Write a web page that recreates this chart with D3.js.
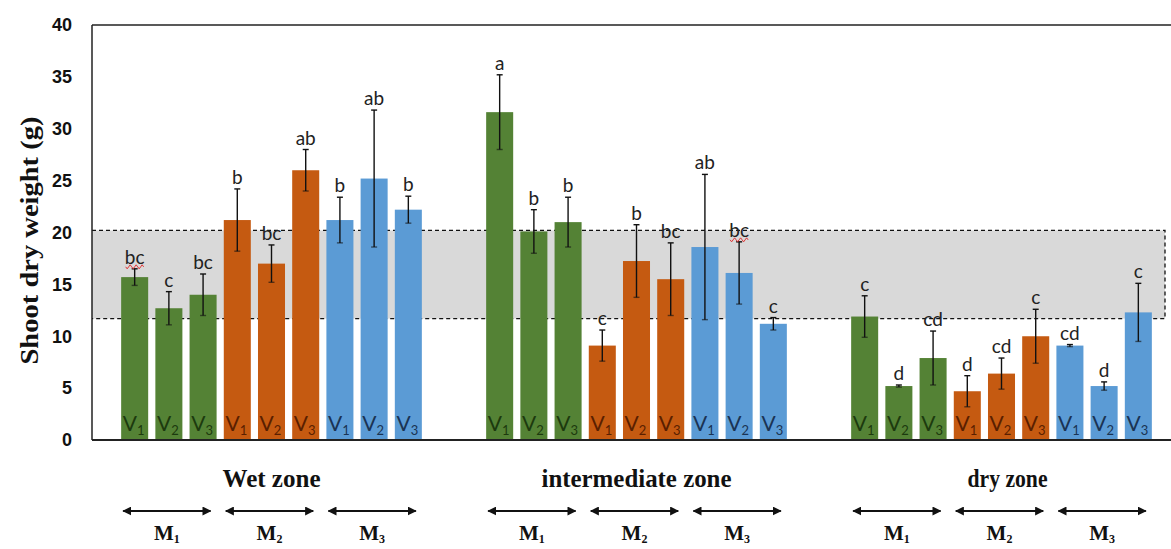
<!DOCTYPE html>
<html>
<head>
<meta charset="utf-8">
<script src="https://cdn.jsdelivr.net/npm/d3@7"></script>
<style>
  html, body { margin: 0; padding: 0; background: #fff; }
  svg { display: block; }
</style>
</head>
<body>
<svg id="chart" width="1171" height="549"></svg>
<script>
// ---------------- data ----------------
const zones = ["Wet zone", "intermediate zone", "dry zone"];
const managements = ["M1", "M2", "M3"];
const varieties = ["V1", "V2", "V3"];

const wetMeans = [15.7, 12.7, 14.0, 21.2, 17.0, 26.0, 21.2, 25.2, 22.2];
const wetErrors = [0.8, 1.6, 2.0, 3.0, 1.8, 2.0, 2.2, 6.6, 1.3];
const wetLetters = ["bc", "c", "bc", "b", "bc", "ab", "b", "ab", "b"];

const intermediateMeans = [31.6, 20.1, 21.0, 9.1, 17.25, 15.5, 18.6, 16.1, 11.2];
const intermediateErrors = [3.6, 2.1, 2.4, 1.5, 3.5, 3.5, 7.0, 3.0, 0.6];
const intermediateLetters = ["a", "b", "b", "c", "b", "bc", "ab", "bc", "c"];

const dryMeans = [11.9, 5.2, 7.9, 4.7, 6.4, 10.0, 9.1, 5.2, 12.3];
const dryErrors = [2.0, 0.1, 2.6, 1.5, 1.5, 2.6, 0.1, 0.4, 2.8];
const dryLetters = ["c", "d", "cd", "d", "cd", "c", "cd", "d", "c"];

const squiggled = [[0, 0], [1, 7]]; // [zone index, bar index] letters underlined by spell-check

const rangeBand = [11.7, 20.2];
const yTicks = [0, 5, 10, 15, 20, 25, 30, 35, 40];
const yTitle = "Shoot dry weight (g)";

const mgmtColors = ["#548235", "#c55a11", "#5b9bd5"];
const vTextColors = ["#1c3a0e", "#5a1f00", "#1a3353"];

// -------------- build table ---------------
const meansByZone = [wetMeans, intermediateMeans, dryMeans];
const errsByZone = [wetErrors, intermediateErrors, dryErrors];
const lettersByZone = [wetLetters, intermediateLetters, dryLetters];
const rows = [];
zones.forEach((z, zi) => {
  for (let i = 0; i < 9; i++) {
    rows.push({
      zone: z, zi, i,
      m: Math.floor(i / 3), v: i % 3,
      mean: meansByZone[zi][i], err: errsByZone[zi][i], letter: lettersByZone[zi][i]
    });
  }
});

// -------------- layout --------------------
const svg = d3.select("#chart");
const pLeft = 92, pTop = 25, pBottom = 440, pRight = 1171;

const y = d3.scaleLinear().domain([0, 40]).range([pBottom, pTop]);
const x0 = d3.scaleBand().domain(zones).range([89, 1184]).padding(0);
const x1 = d3.scaleBand().domain(d3.range(9)).range([0, x0.bandwidth()])
  .paddingInner(0.21).paddingOuter(0.94);
const bx = d => x0(d.zone) + x1(d.i);
const bw = x1.bandwidth();

// shaded range band
const bandRight = 1165;
svg.append("rect")
  .attr("x", pLeft).attr("y", y(rangeBand[1]))
  .attr("width", bandRight - pLeft).attr("height", y(rangeBand[0]) - y(rangeBand[1]))
  .attr("fill", "#d9d9d9");
svg.append("path")
  .attr("d", `M${pLeft},${y(rangeBand[1])}H${bandRight}V${y(rangeBand[0])}H${pLeft}`)
  .attr("stroke", "#111").attr("stroke-width", 1.3).attr("stroke-dasharray", "4,3").attr("fill", "none");

// bars
svg.append("g").selectAll("rect").data(rows).join("rect")
  .attr("x", bx).attr("y", d => y(d.mean))
  .attr("width", bw).attr("height", d => y(0) - y(d.mean))
  .attr("fill", d => mgmtColors[d.m]);

// error bars
const eg = svg.append("g").attr("stroke", "#111").attr("stroke-width", 1.4);
rows.forEach(d => {
  const cx = bx(d) + bw / 2;
  const t = y(d.mean + d.err), b = y(Math.max(0, d.mean - d.err));
  eg.append("line").attr("x1", cx).attr("x2", cx).attr("y1", t).attr("y2", b);
  eg.append("line").attr("x1", cx - 3).attr("x2", cx + 3).attr("y1", t).attr("y2", t);
  eg.append("line").attr("x1", cx - 3).attr("x2", cx + 3).attr("y1", b).attr("y2", b).attr("stroke-opacity", 0.6);
});

// significance letters
svg.append("g").selectAll("text").data(rows).join("text")
  .attr("x", d => bx(d) + bw / 2)
  .attr("y", d => y(d.mean + d.err) - 5)
  .attr("text-anchor", "middle")
  .attr("font-family", "Lato, 'Open Sans', sans-serif")
  .attr("font-size", 19)
  .attr("fill", "#222")
  .text(d => d.letter);

// red spell-check squiggles
squiggled.forEach(([zi, i]) => {
  const d = rows[zi * 9 + i];
  const cx = bx(d) + bw / 2;
  const yy = y(d.mean + d.err) - 2;
  let p = `M${cx - 9},${yy}`;
  for (let k = 0; k < 6; k++) p += ` l1.5,${k % 2 ? -2 : 2} l1.5,${k % 2 ? 2 : -2}`;
  svg.append("path").attr("d", p).attr("stroke", "#e03030").attr("stroke-width", 1).attr("fill", "none");
});

// V labels inside bars
const vt = svg.append("g").selectAll("text").data(rows).join("text")
  .attr("x", d => bx(d) + bw / 2 - 1)
  .attr("y", pBottom - 9)
  .attr("text-anchor", "middle")
  .attr("font-family", "Lato, 'Open Sans', sans-serif")
  .attr("font-size", 21)
  .attr("fill", d => vTextColors[d.m]);
vt.append("tspan").text(d => varieties[d.v].charAt(0));
vt.append("tspan").attr("font-size", 13).attr("dy", 4).text(d => varieties[d.v].slice(1));

// axes / frame
svg.append("line").attr("x1", pLeft).attr("x2", pRight).attr("y1", pTop).attr("y2", pTop)
  .attr("stroke", "#222").attr("stroke-width", 1.5);
svg.append("line").attr("x1", pLeft).attr("x2", pLeft).attr("y1", pTop).attr("y2", pBottom)
  .attr("stroke", "#222").attr("stroke-width", 1.5);
svg.append("line").attr("x1", pLeft).attr("x2", pRight).attr("y1", pBottom).attr("y2", pBottom)
  .attr("stroke", "#222").attr("stroke-width", 2);

const yAxis = d3.axisLeft(y).tickValues(yTicks).tickSize(0).tickPadding(20);
const ya = svg.append("g").attr("transform", `translate(${pLeft},0)`).call(yAxis);
ya.select(".domain").remove();
ya.selectAll("text")
  .attr("font-family", "'Liberation Sans', Arial, sans-serif")
  .attr("font-weight", "bold").attr("font-size", 18).attr("fill", "#111");

// y title
svg.append("text")
  .attr("transform", `translate(38,${(pTop + pBottom) / 2 + 8}) rotate(-90)`)
  .attr("text-anchor", "middle")
  .attr("font-family", "'Liberation Serif', 'Times New Roman', serif")
  .attr("font-weight", "bold").attr("font-size", 25)
  .attr("textLength", 248).attr("lengthAdjust", "spacingAndGlyphs")
  .attr("fill", "#111")
  .text(yTitle);

// zone labels
const zoneWidths = [98, 190, 80];
svg.append("g").selectAll("text").data(zones).join("text")
  .attr("x", z => x0(z) + x0.bandwidth() / 2 + (z === "dry zone" ? 6 : 0))
  .attr("y", 487)
  .attr("text-anchor", "middle")
  .attr("font-family", "'Liberation Serif', 'Times New Roman', serif")
  .attr("font-weight", "bold").attr("font-size", 26)
  .attr("textLength", (z, i) => zoneWidths[i]).attr("lengthAdjust", "spacingAndGlyphs")
  .attr("fill", "#111")
  .text(z => z);

// management arrows + labels
const defs = svg.append("defs");
defs.append("marker").attr("id", "arr")
  .attr("viewBox", "0 0 10 10").attr("refX", 9).attr("refY", 5)
  .attr("markerWidth", 4.5).attr("markerHeight", 4.5).attr("orient", "auto-start-reverse")
  .append("path").attr("d", "M0,0L10,5L0,10z").attr("fill", "#111");
const mg = [];
zones.forEach(z => managements.forEach((m, mi) => {
  const xs = x0(z) + x1(mi * 3) + 2;
  const xe = x0(z) + x1(mi * 3 + 2) + bw - 6;
  mg.push({ z, m, xs, xe });
}));
svg.append("g").selectAll("line").data(mg).join("line")
  .attr("x1", d => d.xs).attr("x2", d => d.xe)
  .attr("y1", 511).attr("y2", 511)
  .attr("stroke", "#111").attr("stroke-width", 2)
  .attr("marker-start", "url(#arr)").attr("marker-end", "url(#arr)");
const ml = svg.append("g").selectAll("text").data(mg).join("text")
  .attr("x", d => (d.xs + d.xe) / 2)
  .attr("y", 540)
  .attr("text-anchor", "middle")
  .attr("font-family", "'Liberation Serif', 'Times New Roman', serif")
  .attr("font-weight", "bold").attr("font-size", 21)
  .attr("fill", "#111");
ml.append("tspan").text(d => d.m.charAt(0));
ml.append("tspan").attr("font-size", 12).attr("dy", 3).text(d => d.m.slice(1));
</script>
</body>
</html>
